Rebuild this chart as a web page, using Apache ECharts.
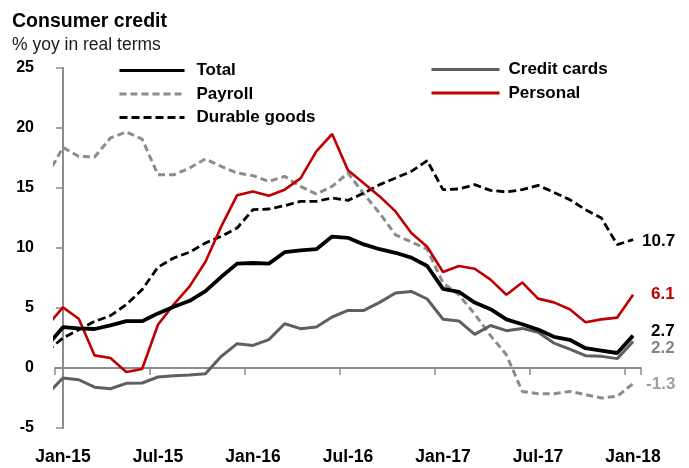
<!DOCTYPE html>
<html>
<head>
<meta charset="utf-8">
<script src="https://cdn.jsdelivr.net/npm/echarts@6/dist/echarts.min.js"></script>
<style>
  html, body { margin: 0; padding: 0; background: #fff; }
  #chart { width: 689px; height: 468px; }
</style>
</head>
<body>
<div id="chart"></div>
<script>
// months: first entry (Dec-14) lies just left of the plot and is clipped
const months = ['Dec-14',
  'Jan-15', 'Feb-15', 'Mar-15', 'Apr-15', 'May-15', 'Jun-15', 'Jul-15', 'Aug-15', 'Sep-15', 'Oct-15', 'Nov-15', 'Dec-15',
  'Jan-16', 'Feb-16', 'Mar-16', 'Apr-16', 'May-16', 'Jun-16', 'Jul-16', 'Aug-16', 'Sep-16', 'Oct-16', 'Nov-16', 'Dec-16',
  'Jan-17', 'Feb-17', 'Mar-17', 'Apr-17', 'May-17', 'Jun-17', 'Jul-17', 'Aug-17', 'Sep-17', 'Oct-17', 'Nov-17', 'Dec-17',
  'Jan-18']
const categories = months.slice(1)

const total = [1.85,
  3.4, 3.3, 3.25, 3.55, 3.9, 3.9, 4.55, 5.1, 5.6, 6.4, 7.6, 8.7,
  8.75, 8.7, 9.65, 9.8, 9.9, 10.95, 10.85, 10.3, 9.9, 9.6, 9.2, 8.5,
  6.6, 6.35, 5.45, 4.9, 4.05, 3.65, 3.2, 2.6, 2.35, 1.65, 1.45, 1.25,
  2.7]
const creditCards = [-2.2,
  -0.83, -0.98, -1.6, -1.73, -1.28, -1.25, -0.75, -0.64, -0.58, -0.48, 0.97, 2.03,
  1.88, 2.36, 3.69, 3.28, 3.42, 4.25, 4.8, 4.8, 5.47, 6.25, 6.38, 5.75,
  4.06, 3.92, 2.8, 3.54, 3.11, 3.3, 2.97, 2.08, 1.58, 1.03, 0.97, 0.78,
  2.2]
const payroll = [16.0,
  18.38, 17.63, 17.58, 19.17, 19.67, 19.08, 16.1, 16.1, 16.67, 17.42, 16.8, 16.25,
  16.03, 15.55, 15.97, 15.13, 14.5, 15.13, 16.25, 14.5, 12.9, 11.1, 10.5, 9.9,
  7.08, 6.1, 4.5, 2.7, 1.1, -1.95, -2.14, -2.14, -1.95, -2.22, -2.5, -2.36,
  -1.3]
const personal = [3.5,
  5.05, 4.1, 1.05, 0.83, -0.33, -0.08, 3.6, 5.3, 6.8, 8.85, 11.8, 14.4,
  14.7, 14.36, 14.86, 15.8, 18.05, 19.5, 16.47, 15.4, 14.3, 13.05, 11.25, 10.1,
  8.0, 8.5, 8.27, 7.36, 6.1, 7.13, 5.78, 5.47, 4.9, 3.82, 4.05, 4.2,
  6.1]
const durable = [1.4,
  2.5, 3.19, 3.88, 4.36, 5.28, 6.53, 8.4, 9.17, 9.65, 10.42, 10.97, 11.67,
  13.19, 13.25, 13.53, 13.89, 13.89, 14.17, 13.97, 14.58, 15.28, 15.83, 16.39, 17.28,
  14.86, 14.92, 15.28, 14.8, 14.67, 14.86, 15.22, 14.64, 14.03, 13.19, 12.5, 10.28,
  10.7]

const yTicks = { min: -5, max: 25, step: 5 }

const FONT = '"Liberation Sans", Arial, sans-serif'

// index -1 = Dec-14, 0 = Jan-15 ...
function toPoints(arr) {
  return arr.map((v, i) => [i - 1, v])
}

function lineSeries(name, data, color, width, dash, label) {
  return {
    name: name,
    type: 'line',
    xAxisIndex: 2,
    data: toPoints(data),
    symbol: 'none',
    clip: true,
    lineStyle: { color: color, width: width, type: dash || 'solid' },
    itemStyle: { color: color },
    emphasis: { disabled: true },
    endLabel: {
      show: true,
      formatter: label.text,
      color: label.color,
      fontFamily: FONT,
      fontWeight: 'bold',
      fontSize: 17,
      distance: 0,
      offset: label.offset
    }
  }
}

const chart = echarts.init(document.getElementById('chart'))

const legendText = { fontFamily: FONT, fontWeight: 'bold', fontSize: 17, color: '#000' }

const option = {
  animation: false,
  backgroundColor: '#fff',
  title: [
    {
      text: 'Consumer credit',
      left: 12, top: 12, padding: 0,
      textStyle: { fontFamily: FONT, fontWeight: 'bold', fontSize: 19.5, color: '#000' }
    },
    {
      text: '% yoy in real terms',
      left: 12, top: 36, padding: 0,
      textStyle: { fontFamily: FONT, fontWeight: 'normal', fontSize: 17.5, color: '#1a1a1a' }
    }
  ],
  legend: [
    {
      data: ['Total', 'Payroll', 'Durable goods'],
      orient: 'vertical',
      left: 118, top: 62, padding: 0,
      itemWidth: 65, itemHeight: 14, itemGap: 6.5,
      itemStyle: { opacity: 0 },
      lineStyle: { width: 3 },
      textStyle: Object.assign({ padding: [0, 0, 0, 7] }, legendText),
      selectedMode: false
    },
    {
      data: ['Credit cards', 'Personal'],
      orient: 'vertical',
      left: 430, top: 61, padding: 0,
      itemWidth: 68, itemHeight: 14, itemGap: 6.5,
      itemStyle: { opacity: 0 },
      lineStyle: { width: 3 },
      textStyle: Object.assign({ padding: [0, 0, 0, 4] }, legendText),
      selectedMode: false
    }
  ],
  grid: { left: 55, right: 48, top: 68, bottom: 40, containLabel: false },
  xAxis: [
    {
      // axis line + ticks on zero
      type: 'category',
      data: categories,
      boundaryGap: true,
      position: 'bottom',
      axisLine: { show: true, onZero: true, lineStyle: { color: '#8c8c8c', width: 2 } },
      axisTick: { show: true, interval: 5, length: 7, lineStyle: { color: '#8c8c8c', width: 1.5 } },
      axisLabel: { show: false },
      splitLine: { show: false }
    },
    {
      // month labels at the bottom
      type: 'category',
      data: categories,
      boundaryGap: true,
      position: 'bottom',
      axisLine: { show: false, onZero: false },
      axisTick: { show: false },
      axisLabel: {
        show: true, interval: 5, margin: 20,
        fontFamily: FONT, fontWeight: 'bold', fontSize: 17.5, color: '#000'
      },
      splitLine: { show: false }
    },
    {
      // value axis carrying the lines
      type: 'value',
      min: -0.5, max: categories.length - 0.5,
      show: false,
      axisLine: { onZero: false },
      splitLine: { show: false }
    }
  ],
  yAxis: {
    type: 'value',
    min: yTicks.min, max: yTicks.max, interval: yTicks.step,
    axisLine: { show: true, lineStyle: { color: '#8c8c8c', width: 2 } },
    axisTick: { show: true, length: 7, lineStyle: { color: '#8c8c8c', width: 1.5 } },
    axisLabel: { margin: 21, fontFamily: FONT, fontWeight: 'bold', fontSize: 16, color: '#000' },
    splitLine: { show: false }
  },
  series: [
    lineSeries('Payroll', payroll, '#8c8c8c', 3, [7, 4], { text: '-1.3', color: '#a0a0a0', offset: [13, 1] }),
    lineSeries('Durable goods', durable, '#000000', 2.8, [8, 4], { text: '10.7', color: '#000', offset: [9, 2] }),
    lineSeries('Credit cards', creditCards, '#5f5f5f', 3, null, { text: '2.2', color: '#858585', offset: [18, 7] }),
    lineSeries('Personal', personal, '#c00000', 2.6, null, { text: '6.1', color: '#c00000', offset: [18, 0] }),
    lineSeries('Total', total, '#000000', 3.8, null, { text: '2.7', color: '#000', offset: [18, -4] })
  ]
}

chart.setOption(option)
window.addEventListener('resize', () => chart.resize())
</script>
</body>
</html>
